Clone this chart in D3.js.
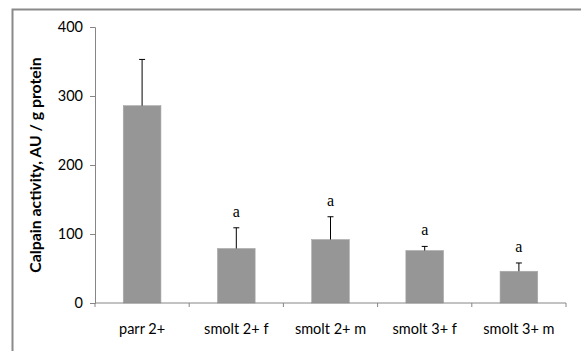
<!DOCTYPE html>
<html>
<head>
<meta charset="utf-8">
<script src="https://cdn.jsdelivr.net/npm/d3@7"></script>
<style>
  body { margin: 0; background: #fff; }
  svg { display: block; }
</style>
</head>
<body>
<div class="main"></div>
<script>
// chart values
const groups = ["parr 2+", "smolt 2+ f", "smolt 2+ m", "smolt 3+ f", "smolt 3+ m"];
const means = [286, 79, 92, 76, 46];
const errTop = [353, 109, 125, 82, 58];
const letters = ["", "a", "a", "a", "a"];
const yTicks = [0, 100, 200, 300, 400];

let width = 581, height = 351;
let font = "Lato, 'Open Sans', sans-serif";

let svg = d3.select("div.main").append("svg")
  .attr("width", width)
  .attr("height", height);

// outer chart frame (runs off the right and bottom edge)
svg.append("path")
  .attr("d", "M12.5," + height + "V9.5H" + width)
  .attr("fill", "none")
  .attr("stroke", "#8a8a8a")
  .attr("stroke-width", 2);

let x = d3.scaleBand()
  .domain(groups)
  .range([95, 566])
  .paddingInner(0.6)
  .paddingOuter(0.3);

let y = d3.scaleLinear()
  .domain([0, 400])
  .range([303, 27]);

// y axis
let yAxis = svg.append("g")
  .attr("transform", "translate(95,0)")
  .call(d3.axisLeft(y).tickValues(yTicks).tickSize(5).tickPadding(7));
yAxis.select(".domain").attr("stroke", "#868686");
yAxis.selectAll(".tick line").attr("stroke", "#868686");
yAxis.selectAll("text")
  .attr("font-family", font)
  .attr("font-size", "14.5px")
  .attr("fill", "#000");

// bars
svg.selectAll("rect.bar")
  .data(groups)
  .enter().append("rect")
  .attr("class", "bar")
  .attr("x", d => x(d))
  .attr("y", (d, i) => y(means[i]))
  .attr("width", x.bandwidth())
  .attr("height", (d, i) => y(0) - y(means[i]))
  .attr("fill", "#969696")
  .attr("stroke", "#a8a8a8")
  .attr("stroke-width", 0.6);

// upper error bars
let cx = d => x(d) + x.bandwidth() / 2;
svg.selectAll("line.err")
  .data(groups)
  .enter().append("line")
  .attr("x1", cx).attr("x2", cx)
  .attr("y1", (d, i) => y(means[i]))
  .attr("y2", (d, i) => y(errTop[i]))
  .attr("stroke", "#000")
  .attr("stroke-width", 1);
svg.selectAll("line.cap")
  .data(groups)
  .enter().append("line")
  .attr("x1", d => cx(d) - 3).attr("x2", d => cx(d) + 3)
  .attr("y1", (d, i) => y(errTop[i]))
  .attr("y2", (d, i) => y(errTop[i]))
  .attr("stroke", "#000")
  .attr("stroke-width", 1);

// significance letters
svg.selectAll("text.sig")
  .data(groups)
  .enter().append("text")
  .attr("x", cx)
  .attr("y", (d, i) => y(errTop[i]) - 11)
  .attr("text-anchor", "middle")
  .attr("font-family", "Liberation Serif, serif")
  .attr("font-size", "16px")
  .text((d, i) => letters[i]);

// x axis with ticks at band edges
let xAxisG = svg.append("g").attr("transform", "translate(0,303)");
xAxisG.append("line")
  .attr("x1", 95).attr("x2", 566)
  .attr("stroke", "#868686");
let edges = groups.map(d => x(d) - x.step() * x.paddingInner() / 2);
edges.push(566);
xAxisG.selectAll("line.tk")
  .data(edges)
  .enter().append("line")
  .attr("x1", d => d).attr("x2", d => d)
  .attr("y1", 0).attr("y2", 4)
  .attr("stroke", "#868686");
xAxisG.selectAll("text")
  .data(groups)
  .enter().append("text")
  .attr("x", cx)
  .attr("y", 31)
  .attr("text-anchor", "middle")
  .attr("font-family", font)
  .attr("font-size", "14.5px")
  .text(d => d);

// y axis title
svg.append("text")
  .attr("transform", "translate(41,165)rotate(-90)")
  .attr("text-anchor", "middle")
  .attr("font-family", font)
  .attr("font-weight", "bold")
  .attr("font-size", "15.8px")
  .text("Calpain activity, AU / g protein");
</script>
</body>
</html>
